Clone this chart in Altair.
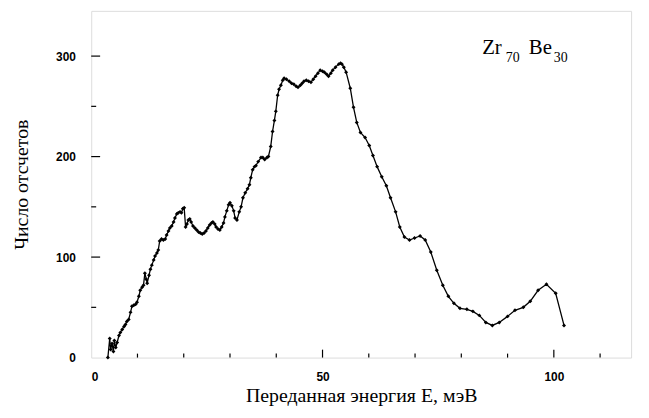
import altair as alt
import pandas as pd

energy = [3.6, 4.0, 4.2, 4.5, 4.8, 5.0, 5.3, 5.6, 6.0, 6.3, 6.7, 7.1, 7.4, 7.7, 8.1, 8.5, 8.8, 9.2, 9.6, 9.9,
          10.3, 10.6, 11.0, 11.3, 11.6, 11.9, 12.1, 12.5, 12.8, 13.1, 13.5, 13.8, 14.2, 14.5, 14.8, 15.2, 15.6,
          16.0, 16.3, 16.7, 17.0, 17.4, 17.8, 18.1, 18.5, 18.8, 19.2, 19.5, 19.8, 20.1, 20.4, 20.7, 21.0, 21.3,
          21.6, 22.0, 22.4, 22.8, 23.2, 23.6, 24.0, 24.4, 24.8, 25.2, 25.6, 26.0, 26.3, 26.7, 27.0, 27.4, 27.8,
          28.2, 28.6, 28.9, 29.3, 29.7, 30.0, 30.4, 30.8, 31.1, 31.5, 32.0, 32.4, 32.8, 33.3, 33.8, 34.2, 34.5,
          34.9, 35.3, 35.6, 36.1, 36.7, 37.1, 37.5, 38.0, 38.3, 38.8, 39.2, 39.6, 39.9, 40.3, 40.6, 41.0, 41.4,
          41.7, 42.2, 42.8, 43.3, 43.8, 44.3, 44.7, 45.2, 45.6, 46.0, 46.5, 47.0, 47.5, 48.0, 48.5, 49.0, 49.5,
          50.0, 50.4, 50.9, 51.3, 51.8, 52.2, 52.8, 53.5, 53.9, 54.2, 54.6, 55.1, 56.0, 56.7, 57.4, 58.2, 59.2,
          60.1, 60.9, 61.8, 62.8, 63.8, 64.7, 65.8, 66.7, 67.7, 68.8, 69.9, 71.1, 72.2, 73.4, 74.7, 76.0, 77.2,
          78.4, 79.7, 81.2, 82.5, 83.9, 85.3, 86.7, 88.2, 90.0, 91.6, 93.4, 94.9, 96.6, 98.4, 100.4, 102.2]
counts = [0, 19, 8, 14, 6, 17, 10, 15, 22, 25, 28, 31, 33, 36, 38, 45, 51, 52, 53, 55,
          61, 67, 70, 72, 84, 78, 74, 82, 88, 92, 97, 101, 104, 107, 116, 118, 117,
          118, 122, 126, 129, 131, 135, 139, 143, 144, 145, 144, 148, 149, 130, 133, 137, 138,
          135, 131, 129, 127, 125, 124, 123, 124, 126, 129, 132, 134, 135, 133, 130, 128, 127,
          130, 134, 140, 146, 152, 154, 151, 146, 139, 137, 145, 150, 159, 164, 168, 172, 179,
          187, 190, 191, 195, 199, 199, 197, 199, 200, 210, 225, 236, 245, 261, 267, 271, 276,
          278, 277, 275, 273, 272, 270, 269, 271, 273, 275, 276, 275, 274, 277, 280, 283, 286,
          285, 284, 282, 280, 283, 286, 289, 292, 293, 292, 289, 284, 268, 249, 234, 224, 219,
          211, 201, 190, 180, 171, 159, 145, 130, 120, 117, 119, 121, 117, 105, 87, 72, 61,
          54, 49, 48, 46, 42, 35, 32, 35, 41, 47, 50, 56, 67, 73, 64, 32]

x_major = [50, 100]
x_minor = [10, 20, 30, 40, 60, 70, 80, 90, 110]
y_major = [100, 200, 300]
y_minor = [50, 150, 250]

ann_text = ["Zr", "70", "Be", "30"]
ann_x = [84.5, 89.6, 94.6, 100.0]
ann_y = [302, 294, 302, 294]
ann_size = [21, 14, 21, 14]

H = 350
df = pd.DataFrame({"E": energy, "N": counts})
xs = alt.Scale(domain=[0, 116.7], nice=False, zero=False)
ys = alt.Scale(domain=[0, 345], nice=False)

x_axis = alt.Axis(values=[0, 50, 100], title="Переданная энергия E, мэВ", ticks=False, domain=False,
                  grid=False, labelFont="Liberation Sans", labelFontWeight="bold", labelFontSize=12,
                  labelColor="black", labelPadding=14, titleFont="Liberation Serif", titleFontSize=20,
                  titleFontWeight="normal", titleColor="black", titlePadding=3)
y_axis = alt.Axis(values=[0, 100, 200, 300], title="Число отсчетов", ticks=False, domain=False,
                  grid=False, labelFont="Liberation Sans", labelFontWeight="bold", labelFontSize=12,
                  labelColor="black", labelPadding=16, titleFont="Liberation Serif", titleFontSize=20,
                  titleFontWeight="normal", titleColor="black", titlePadding=24)

line = alt.Chart(df).mark_line(color="black", strokeWidth=1.3).encode(
    x=alt.X("E:Q", scale=xs, axis=x_axis),
    y=alt.Y("N:Q", scale=ys, axis=y_axis),
)
pts = alt.Chart(df).mark_point(filled=True, color="black", size=16, opacity=1, shape="diamond").encode(
    x=alt.X("E:Q", scale=xs, axis=x_axis),
    y=alt.Y("N:Q", scale=ys, axis=y_axis),
)

def xticks(vals, length):
    return alt.Chart(pd.DataFrame({"v": vals})).mark_rule(color="black", strokeWidth=1.2).encode(
        x=alt.X("v:Q", scale=xs, axis=x_axis),
        y=alt.value(H), y2=alt.value(H - length))

def yticks(vals, length):
    return alt.Chart(pd.DataFrame({"v": vals})).mark_rule(color="black", strokeWidth=1.2).encode(
        y=alt.Y("v:Q", scale=ys, axis=y_axis),
        x=alt.value(0), x2=alt.value(length))

ann = alt.Chart(pd.DataFrame({"t": ann_text, "x": ann_x, "y": ann_y, "s": ann_size})).mark_text(
    align="left", baseline="alphabetic", font="Liberation Serif", fill="black", color="black").encode(
    x=alt.X("x:Q", scale=xs, axis=x_axis),
    y=alt.Y("y:Q", scale=ys, axis=y_axis),
    text="t:N",
    size=alt.Size("s:Q", scale=None, legend=None),
)

chart = alt.layer(
    xticks(x_minor, 4), xticks(x_major, 8), yticks(y_minor, 5), yticks(y_major, 9), line, pts, ann
).properties(
    width=545, height=H,
    autosize=alt.AutoSizeParams(type="none"),
    padding={"left": 84, "top": 1, "right": 10, "bottom": 50},
).configure_view(stroke="black", strokeWidth=1.3).configure(background="white")

chart.save("out.html", embed_options={"renderer": "svg", "actions": False})
